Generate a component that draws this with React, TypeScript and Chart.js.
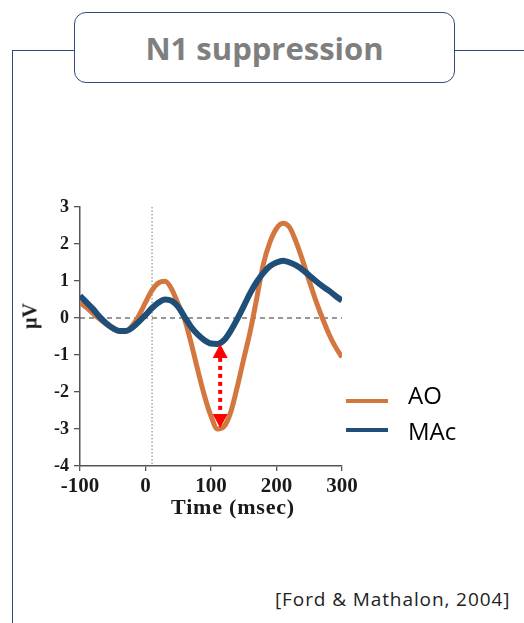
import React, { useEffect, useRef } from "react";
import { Chart, registerables } from "chart.js";

Chart.register(...registerables);

// Data (time in msec, amplitude in µV)
const times = [
  -100, -90, -80, -70, -60, -50, -40, -30, -20, -10, 0, 10, 20, 30, 40, 50, 60, 70, 80, 90,
  100, 110, 120, 130, 140, 150, 160, 170, 180, 190, 200, 210, 220, 230, 240, 250, 260, 270,
  280, 290, 300,
];
const aoValues = [
  0.42, 0.28, 0.12, -0.03, -0.17, -0.29, -0.36, -0.36, -0.2, 0.07, 0.42, 0.75, 0.95, 0.99,
  0.78, 0.37, -0.05, -0.7, -1.42, -2.1, -2.65, -3.0, -2.93, -2.55, -1.87, -1.1, -0.35, 0.55,
  1.46, 2.05, 2.42, 2.56, 2.45, 2.05, 1.55, 1.0, 0.47, 0.0, -0.43, -0.78, -1.06,
];
const macValues = [
  0.6, 0.42, 0.24, 0.03, -0.14, -0.27, -0.35, -0.35, -0.26, -0.1, 0.08, 0.27, 0.42, 0.5, 0.46,
  0.3, 0.02, -0.25, -0.45, -0.6, -0.69, -0.7, -0.6, -0.35, -0.03, 0.32, 0.68, 0.98, 1.22, 1.4,
  1.5, 1.55, 1.5, 1.42, 1.3, 1.15, 1.0, 0.86, 0.74, 0.6, 0.47,
];
const seriesLabels = ["AO", "MAc"];
const xTickValues = [-100, 0, 100, 200, 300];
const yTickValues = [-4, -3, -2, -1, 0, 1, 2, 3];
const zeroLine = 0;
const onsetLine = 10;
const arrowTime = 114;
const arrowTop = -0.7;
const arrowBottom = -2.97;

const AO_COLOR = "#D4773F";
const MAC_COLOR = "#1F4E79";
const FRAME_COLOR = "#2F4B7C";

const refPlugin = {
  id: "refs",
  beforeDatasetsDraw(chart: any) {
    const { ctx, chartArea, scales } = chart;
    const x = scales.x;
    const y = scales.y;
    ctx.save();
    ctx.strokeStyle = "#333";
    ctx.lineWidth = 1.2;
    ctx.setLineDash([5, 4]);
    const yz = y.getPixelForValue(zeroLine);
    ctx.beginPath();
    ctx.moveTo(chartArea.left, yz);
    ctx.lineTo(chartArea.right, yz);
    ctx.stroke();
    ctx.strokeStyle = "#999";
    ctx.lineWidth = 1.3;
    ctx.setLineDash([1.5, 2]);
    const xo = x.getPixelForValue(onsetLine);
    ctx.beginPath();
    ctx.moveTo(xo, chartArea.top);
    ctx.lineTo(xo, chartArea.bottom);
    ctx.stroke();
    ctx.restore();
  },
  afterDatasetsDraw(chart: any) {
    const { ctx, scales } = chart;
    const ax = scales.x.getPixelForValue(arrowTime);
    const yt = scales.y.getPixelForValue(arrowTop);
    const yb = scales.y.getPixelForValue(arrowBottom);
    const head = 14;
    const hw = 7.5;
    ctx.save();
    ctx.strokeStyle = "#FF0000";
    ctx.fillStyle = "#FF0000";
    ctx.lineWidth = 4;
    ctx.setLineDash([4, 4]);
    ctx.beginPath();
    ctx.moveTo(ax, yt + head);
    ctx.lineTo(ax, yb - head);
    ctx.stroke();
    ctx.setLineDash([]);
    ctx.beginPath();
    ctx.moveTo(ax, yt);
    ctx.lineTo(ax - hw, yt + head);
    ctx.lineTo(ax + hw, yt + head);
    ctx.closePath();
    ctx.fill();
    ctx.beginPath();
    ctx.moveTo(ax, yb);
    ctx.lineTo(ax - hw, yb - head);
    ctx.lineTo(ax + hw, yb - head);
    ctx.closePath();
    ctx.fill();
    ctx.restore();
  },
};

function App() {
  const canvasRef = useRef<HTMLCanvasElement | null>(null);

  useEffect(() => {
    if (!canvasRef.current) return;
    const axisColor = "#555";
    const chart = new Chart(canvasRef.current, {
      type: "line",
      data: {
        datasets: [
          {
            label: seriesLabels[1],
            data: times.map((t, i) => ({ x: t, y: macValues[i] })),
            borderColor: MAC_COLOR,
            borderWidth: 6,
            pointRadius: 0,
            cubicInterpolationMode: "monotone",
            order: 1,
          },
          {
            label: seriesLabels[0],
            data: times.map((t, i) => ({ x: t, y: aoValues[i] })),
            borderColor: AO_COLOR,
            borderWidth: 5,
            pointRadius: 0,
            cubicInterpolationMode: "monotone",
            order: 2,
          },
        ],
      },
      options: {
        animation: false,
        responsive: false,
        devicePixelRatio: 1,
        layout: { padding: { top: 17, right: 28, left: 0, bottom: 0 } },
        plugins: { legend: { display: false }, tooltip: { enabled: false } },
        scales: {
          x: {
            type: "linear",
            min: -100,
            max: 300,
            afterBuildTicks: (s: any) => {
              s.ticks = xTickValues.map((v) => ({ value: v }));
            },
            afterFit: (s: any) => {
              s.height = 64;
            },
            ticks: {
              color: "#1a1a1a",
              font: { family: "'Liberation Serif', serif", size: 21, weight: "bold" },
              padding: 3,
              maxRotation: 0,
            },
            grid: {
              drawOnChartArea: false,
              drawTicks: true,
              tickLength: 5,
              color: axisColor,
              lineWidth: 1.3,
            },
            border: { display: true, color: axisColor, width: 1.5 },
          },
          y: {
            type: "linear",
            min: -4,
            max: 3,
            afterBuildTicks: (s: any) => {
              s.ticks = yTickValues.map((v) => ({ value: v }));
            },
            afterFit: (s: any) => {
              s.width = 80;
            },
            ticks: {
              color: "#1a1a1a",
              font: { family: "'Liberation Serif', serif", size: 18, weight: "bold" },
              padding: 5,
            },
            grid: {
              drawOnChartArea: false,
              drawTicks: true,
              tickLength: 6,
              color: axisColor,
              lineWidth: 1.3,
            },
            border: { display: true, color: axisColor, width: 1.5 },
          },
        },
      },
      plugins: [refPlugin],
    } as any);
    return () => chart.destroy();
  }, []);

  const abs = (s: React.CSSProperties): React.CSSProperties => ({ position: "absolute", ...s });

  return (
    <div
      style={{
        position: "fixed",
        left: 0,
        top: 0,
        width: 524,
        height: 623,
        background: "#fff",
        overflow: "hidden",
        fontFamily: "'Open Sans', Lato, sans-serif",
      }}
    >
      <div style={abs({ left: 12, top: 50, width: 0, height: 600, borderLeft: `1.5px solid ${FRAME_COLOR}` })} />
      <div style={abs({ left: 12, top: 50, width: 64, height: 0, borderTop: `1.5px solid ${FRAME_COLOR}` })} />
      <div style={abs({ left: 454, top: 50, width: 80, height: 0, borderTop: `1.5px solid ${FRAME_COLOR}` })} />
      <div
        style={abs({
          left: 74,
          top: 12,
          width: 379,
          height: 69,
          border: `1.5px solid ${FRAME_COLOR}`,
          borderRadius: 12,
          background: "#fff",
          display: "flex",
          alignItems: "center",
          justifyContent: "center",
          color: "#7F7F7F",
          fontWeight: "bold",
          fontSize: 31,
          boxSizing: "content-box",
        })}
      >
        N1 suppression
      </div>
      <canvas ref={canvasRef} width={370} height={340} style={abs({ left: 0, top: 190 })} />
      <div
        style={abs({
          left: 233,
          top: 507,
          transform: "translate(-50%, -50%)",
          fontFamily: "'Liberation Serif', serif",
          fontWeight: "bold",
          fontSize: 22,
          letterSpacing: 0.8,
          color: "#1a1a1a",
          whiteSpace: "nowrap",
        })}
      >
        Time (msec)
      </div>
      <div
        style={abs({
          left: 30,
          top: 316,
          transform: "translate(-50%, -50%) rotate(-90deg)",
          fontFamily: "'Liberation Serif', serif",
          fontWeight: "bold",
          fontSize: 20,
          color: "#1a1a1a",
          whiteSpace: "nowrap",
        })}
      >
        μV
      </div>
      <div style={abs({ left: 346, top: 399, width: 42, height: 4, background: AO_COLOR })} />
      <div style={abs({ left: 408, top: 380, fontSize: 24, color: "#000", lineHeight: "30px" })}>
        {seriesLabels[0]}
      </div>
      <div style={abs({ left: 346, top: 428, width: 42, height: 4, background: MAC_COLOR })} />
      <div style={abs({ left: 408, top: 416, fontSize: 24, color: "#000", lineHeight: "30px" })}>
        {seriesLabels[1]}
      </div>
      <div
        style={abs({
          left: 275,
          top: 586,
          fontSize: 19,
          letterSpacing: 0.9,
          color: "#222",
          whiteSpace: "nowrap",
        })}
      >
        [Ford &amp; Mathalon, 2004]
      </div>
    </div>
  );
}

export default App;
